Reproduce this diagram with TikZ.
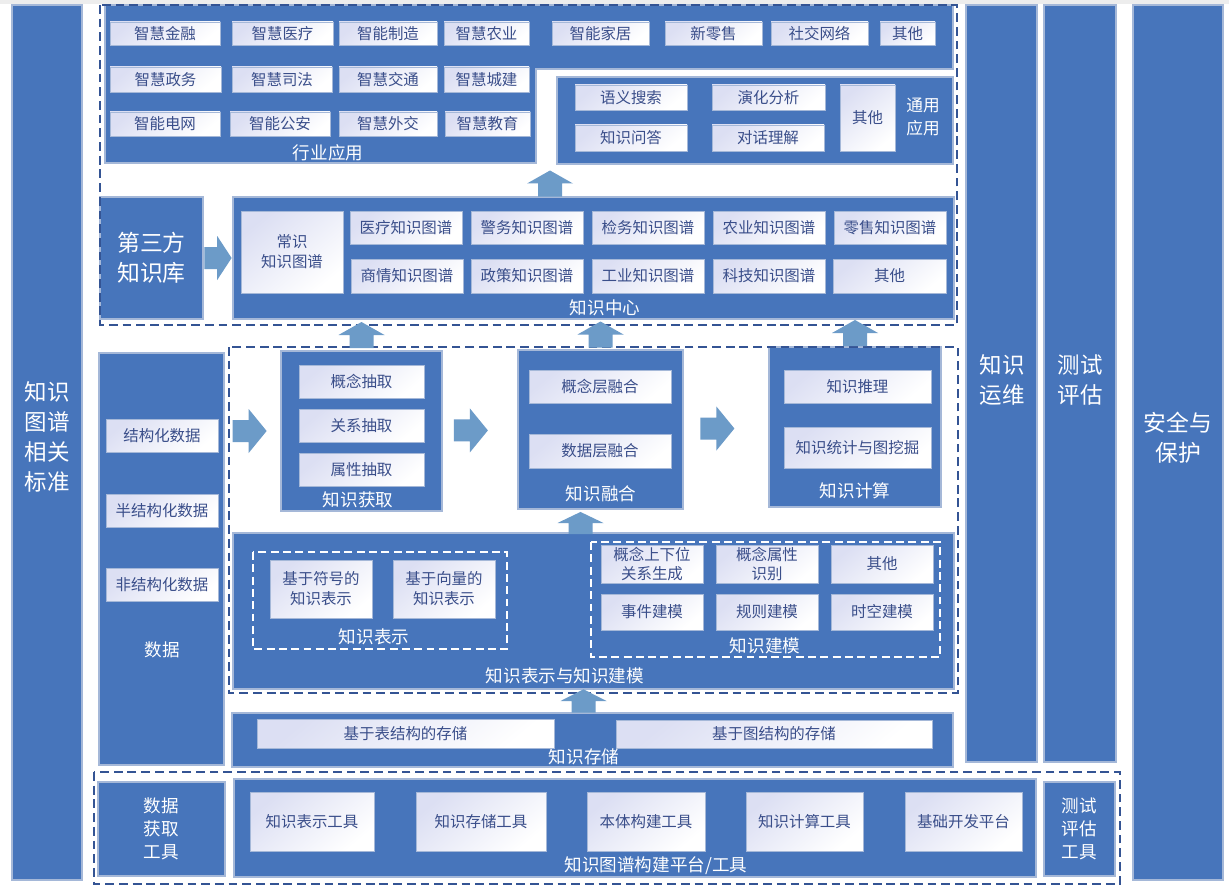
\documentclass[tikz,border=0pt]{standalone}
\usepackage{fontspec}
\setmainfont{Noto Sans CJK SC}
\usetikzlibrary{calc,positioning}
\definecolor{kgblue}{RGB}{71,117,187}
\definecolor{kgedge}{RGB}{165,184,216}
\definecolor{kgarrow}{RGB}{108,155,200}
\definecolor{kgdash}{RGB}{52,84,148}
\definecolor{kgtext}{RGB}{58,78,138}
\definecolor{kgtint}{RGB}{220,223,243}
\newcommand{\kbox}[7][]{\node[inner sep=0pt, outer sep=0pt, minimum width={(#5-#3)*0.02cm}, minimum height={(#6-#4)*0.02cm}, #1] (#2) at ({(#3+#5)/2},{(#4+#6)/2}) {#7};}
\tikzset{
  panel/.style={fill=kgblue, draw=kgedge, line width=0.6pt, text=white, align=center},
  item/.style={draw=kgedge, line width=0.4pt, top color=kgtint, bottom color=white, shading angle=40, text=kgtext, align=center, font=\fontsize{8.8}{11.4}\selectfont},
  caption/.style={text=white, align=center, inner sep=0pt, font=\fontsize{10}{13}\selectfont},
  bigtext/.style={font=\fontsize{12.8}{17}\selectfont},
  midtext/.style={font=\fontsize{10}{13}\selectfont},
  outerdash/.style={draw=kgdash, line width=1.1pt, dash pattern=on 5pt off 2.8pt},
  innerdash/.style={draw=white, line width=0.9pt, dash pattern=on 4.5pt off 2.5pt},
  rarrow/.pic={\fill[kgarrow] (-17,-11) -- (-1,-11) -- (-1,-22) -- (17,0) -- (-1,22) -- (-1,11) -- (-17,11) -- cycle;},
  uarrow/.pic={\fill[kgarrow] (-12,13) -- (-12,0) -- (-23,0) -- (0,-13) -- (23,0) -- (12,0) -- (12,13) -- cycle;}
}
\begin{document}
\begin{tikzpicture}[x=0.02cm, y=-0.02cm]
\useasboundingbox (0,0) rectangle (1229,885);
\fill[white] (0,0) rectangle (1229,885);
\fill[black!7] (0,0) rectangle (1229,4);

% side columns
\kbox[panel]{bz}{12}{5}{82}{880}{}
\node[caption, bigtext] (bzlbl) at (47,437) {知识\\图谱\\相关\\标准};
\kbox[panel]{yw}{966}{5}{1037}{762}{}
\node[caption, bigtext] (ywlbl) at (1002,380) {知识\\运维};
\kbox[panel]{pg}{1044}{5}{1116}{762}{}
\node[caption, bigtext] (pglbl) at (1080,380) {测试\\评估};
\kbox[panel]{aq}{1133}{5}{1223}{880}{}
\node[caption, font=\fontsize{13}{17}\selectfont] (aqlbl) at (1178,438) {安全与\\保护};

% applications
\filldraw[fill=kgblue, draw=kgedge, line width=0.6pt] (105,5) -- (953,5) -- (953,69) -- (536,69) -- (536,163) -- (105,163) -- cycle;
\node[caption] (hylbl) at (328,153) {行业应用};
\kbox[item]{hy11}{110}{22}{220}{45}{智慧金融}
\kbox[item]{hy12}{232}{22}{333}{45}{智慧医疗}
\kbox[item]{hy13}{339}{22}{437}{45}{智能制造}
\kbox[item]{hy14}{444}{22}{529}{45}{智慧农业}
\kbox[item]{hy15}{552}{22}{649}{45}{智能家居}
\kbox[item]{hy16}{665}{22}{762}{45}{新零售}
\kbox[item]{hy17}{771}{22}{868}{45}{社交网络}
\kbox[item]{hy18}{880}{22}{935}{45}{其他}
\kbox[item]{hy21}{110}{67}{221}{92}{智慧政务}
\kbox[item]{hy22}{232}{67}{332}{92}{智慧司法}
\kbox[item]{hy23}{339}{67}{437}{92}{智慧交通}
\kbox[item]{hy24}{444}{67}{529}{92}{智慧城建}
\kbox[item]{hy31}{110}{112}{220}{136}{智能电网}
\kbox[item]{hy32}{230}{112}{330}{136}{智能公安}
\kbox[item]{hy33}{339}{112}{437}{136}{智慧外交}
\kbox[item]{hy34}{445}{112}{530}{136}{智慧教育}

\kbox[panel]{tyyy}{557}{77}{953}{164}{}
\node[caption, font=\fontsize{9.5}{13}\selectfont] (tylbl) at (923,117) {通用\\应用};
\kbox[item]{ty1}{575}{85}{687}{110}{语义搜索}
\kbox[item]{ty2}{712}{85}{825}{110}{演化分析}
\kbox[item]{ty3}{575}{125}{687}{151}{知识问答}
\kbox[item]{ty4}{712}{125}{824}{151}{对话理解}
\kbox[item]{ty5}{840}{85}{895}{151}{其他}

% knowledge centre
\kbox[panel, font=\fontsize{13}{17}\selectfont]{sfk}{100}{197}{203}{319}{第三方\\知识库}
\kbox[panel]{zxzx}{233}{197}{954}{319}{}
\node[caption] (zxlbl) at (605,308) {知识中心};
\kbox[item]{cs}{241}{211}{343}{293}{常识\\知识图谱}
\kbox[item]{zx11}{350}{211}{462}{244}{医疗知识图谱}
\kbox[item]{zx12}{471}{211}{583}{244}{警务知识图谱}
\kbox[item]{zx13}{592}{211}{704}{244}{检务知识图谱}
\kbox[item]{zx14}{713}{211}{825}{244}{农业知识图谱}
\kbox[item]{zx15}{834}{211}{946}{244}{零售知识图谱}
\kbox[item]{zx21}{351}{259}{463}{293}{商情知识图谱}
\kbox[item]{zx22}{471}{259}{583}{293}{政策知识图谱}
\kbox[item]{zx23}{592}{259}{704}{293}{工业知识图谱}
\kbox[item]{zx24}{713}{259}{825}{293}{科技知识图谱}
\kbox[item]{zx25}{833}{259}{946}{293}{其他}

% data
\kbox[panel]{sj}{99}{353}{224}{765}{}
\node[caption] (sjlbl) at (162,650) {数据};
\kbox[item]{sj1}{106}{419}{218}{452}{结构化数据}
\kbox[item]{sj2}{106}{494}{218}{527}{半结构化数据}
\kbox[item]{sj3}{106}{568}{218}{601}{非结构化数据}

% acquisition, fusion, computation
\kbox[panel]{hq}{281}{351}{442}{511}{}
\node[caption] (hqlbl) at (358,500) {知识获取};
\kbox[item]{hq1}{299}{365}{424}{398}{概念抽取}
\kbox[item]{hq2}{299}{409}{424}{442}{关系抽取}
\kbox[item]{hq3}{299}{453}{424}{486}{属性抽取}
\kbox[panel]{rh}{518}{350}{683}{509}{}
\node[caption] (rhlbl) at (601,494) {知识融合};
\kbox[item]{rh1}{529}{370}{671}{403}{概念层融合}
\kbox[item]{rh2}{529}{434}{671}{468}{数据层融合}
\kbox[panel]{js}{769}{347}{941}{507}{}
\node[caption] (jslbl) at (855,491) {知识计算};
\kbox[item]{js1}{784}{370}{931}{403}{知识推理}
\kbox[item]{js2}{784}{427}{931}{468}{知识统计与图挖掘}

% representation and modelling
\kbox[panel]{bm}{233}{533}{954}{689}{}
\node[caption] (bmlbl) at (565,676) {知识表示与知识建模};
\draw[innerdash] (253,552) rectangle (507,649);
\node[caption] (bslbl) at (374,637) {知识表示};
\kbox[item]{bs1}{270}{560}{372}{618}{基于符号的\\知识表示}
\kbox[item]{bs2}{393}{560}{495}{618}{基于向量的\\知识表示}
\draw[innerdash] (591,542) rectangle (940,657);
\node[caption] (jmlbl) at (765,646) {知识建模};
\kbox[item, font=\fontsize{8.8}{10.6}\selectfont]{jm11}{601}{545}{703}{583}{概念上下位\\关系生成}
\kbox[item, font=\fontsize{8.8}{10.6}\selectfont]{jm12}{716}{545}{818}{583}{概念属性\\识别}
\kbox[item]{jm13}{831}{545}{933}{583}{其他}
\kbox[item]{jm21}{601}{594}{703}{630}{事件建模}
\kbox[item]{jm22}{716}{594}{818}{630}{规则建模}
\kbox[item]{jm23}{831}{594}{933}{630}{时空建模}

% storage
\kbox[panel]{cc}{232}{713}{953}{767}{}
\node[caption] (cclbl) at (584,757) {知识存储};
\kbox[item]{cc1}{257}{719}{554}{748}{基于表结构的存储}
\kbox[item]{cc2}{616}{720}{932}{748}{基于图结构的存储}

% tools
\kbox[panel, midtext]{hqgj}{98}{782}{225}{876}{数据\\获取\\工具}
\kbox[panel]{pt}{234}{779}{1036}{877}{}
\node[caption] (ptlbl) at (656,866) {知识图谱构建平台/工具};
\kbox[item]{gj1}{250}{792}{374}{851}{知识表示工具}
\kbox[item]{gj2}{416}{792}{546}{851}{知识存储工具}
\kbox[item]{gj3}{587}{792}{705}{851}{本体构建工具}
\kbox[item]{gj4}{746}{792}{863}{851}{知识计算工具}
\kbox[item]{gj5}{905}{792}{1022}{851}{基础开发平台}
\kbox[panel, midtext]{csgj}{1044}{782}{1115}{876}{测试\\评估\\工具}

% dashed groups
\draw[outerdash] (100,5) rectangle (957,325);
\draw[outerdash] (229,347) rectangle (958,693);
\draw[outerdash] (94,772) rectangle (1120,884);

% block arrows
\pic[xscale=0.8] at ($(sfk.east)!0.5!(zxzx.west)$) {rarrow};
\pic at ($(sj.east |- hq.west)!0.45!(hq.west)$) {rarrow};
\pic at ($(hq.east)!0.38!(rh.west)$) {rarrow};
\pic at ($(rh.east)!0.4!(js.west)$) {rarrow};
\pic at ($(tyyy.south west)!0.5!(tyyy.south west |- zxzx.north)+(-7,3)$) {uarrow};
\pic at ($(hq.north |- zxzx.south)!0.5!(hq.north)$) {uarrow};
\pic at ($(rh.north |- zxzx.south)!0.5!(rh.north)$) {uarrow};
\pic at ($(js.north |- zxzx.south)!0.5!(js.north)$) {uarrow};
\pic[yscale=0.85] at ($(rh.south)!0.5!(rh.south |- bm.north)+(-20,2)$) {uarrow};
\pic[yscale=0.9] at ($(bm.south)!0.5!(bm.south |- cc.north)+(-10,0)$) {uarrow};
\end{tikzpicture}
\end{document}
